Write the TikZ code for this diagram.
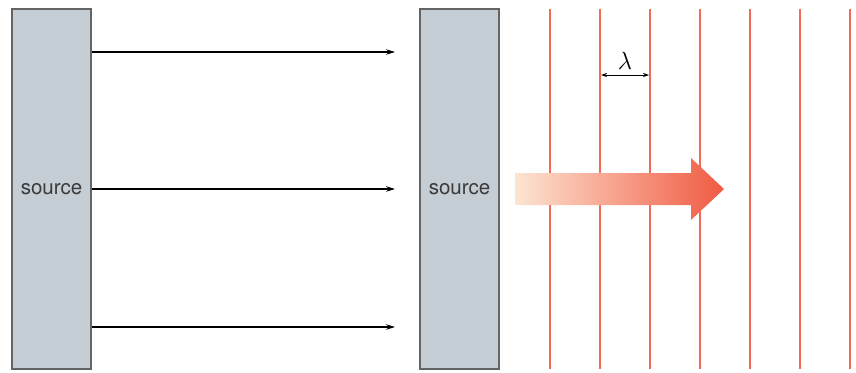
\documentclass[tikz,border=0pt]{standalone}
\usepackage{fontspec}
\setmainfont{TeX Gyre Heros}
\usetikzlibrary{arrows.meta}
\definecolor{boxfill}{HTML}{C5CDD5}
\definecolor{boxline}{HTML}{646464}
\definecolor{wave}{HTML}{F26B58}
\definecolor{gradA}{HTML}{FDE4D2}
\definecolor{gradB}{HTML}{F05A42}
\definecolor{txt}{HTML}{3A3A3A}
\tikzset{
  srcbox/.style={draw=boxline, fill=boxfill, line width=1.4pt, minimum width=79pt, minimum height=360pt, inner sep=0pt, text=txt, font=\fontsize{20.5}{24}\selectfont},
  ray/.style={line width=1.1pt, -{Stealth[length=9pt,width=5.5pt]}},
  wavefront/.style={draw=wave, line width=1.3pt},
  dim/.style={line width=0.8pt, {Stealth[length=6pt,width=4pt]}-{Stealth[length=6pt,width=4pt]}}
}
\begin{document}
\begin{tikzpicture}[x=1pt,y=-1pt]
\useasboundingbox (0,0) rectangle (856,372);
\node[srcbox] (s1) at (51.5,189) {source};
\node[srcbox] (s2) at (459.5,189) {source};
\coordinate (e1) at (395,52);
\coordinate (e2) at (395,189);
\coordinate (e3) at (395,327);
\draw[ray] (s1.east |- e1) -- (e1);
\draw[ray] (s1.east |- e2) -- (e2);
\draw[ray] (s1.east |- e3) -- (e3);
\foreach \x in {550,600,650,700,750,800,850}
  \draw[wavefront] (\x,9) -- (\x,369);
\shade[left color=gradA, right color=gradB]
  (515,173) -- (691,173) -- (691,158) -- (724,189) -- (691,220) -- (691,205) -- (515,205) -- cycle;
\coordinate (la) at (601,75);
\coordinate (lb) at (649,75);
\draw[dim] (la) -- (lb) node[midway, above=2pt, font=\fontsize{24}{26}\selectfont] (lam) {$\lambda$};
\end{tikzpicture}
\end{document}
